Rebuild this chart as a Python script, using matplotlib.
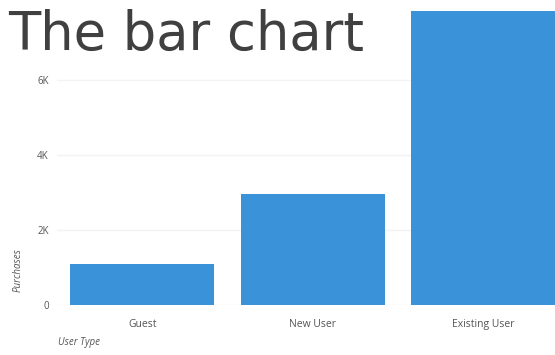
import numpy as np
import matplotlib.pyplot as plt

# data
user_types = ["Guest", "New User", "Existing User"]
purchases = [1100, 2950, 7850]
ytick_vals = [0, 2000, 4000, 6000]
ytick_labels = ["0", "2K", "4K", "6K"]

W, H = 555, 355
fig = plt.figure(figsize=(W / 100, H / 100), dpi=100)
ax = fig.add_axes([57 / W, 50 / H, (W - 57) / W, 305 / H])

x = np.arange(len(user_types))
ax.bar(x, purchases, width=0.845, color="#3a93d8", zorder=2)

ax.set_xlim(-0.5, -0.5 + (W - 57) / 170.5)
ax.set_ylim(0, 305 / 37.5 * 1000)
ax.set_yticks(ytick_vals)
ax.set_yticklabels(ytick_labels)
ax.set_xticks(x)
ax.set_xticklabels(user_types)
ax.grid(axis="y", color="#f3f3f3", linewidth=1, zorder=0)
ax.tick_params(axis="y", length=0, pad=6, labelsize=7, labelcolor="#555555")
ax.tick_params(axis="x", length=0, pad=10, labelsize=7.5, labelcolor="#555555")
for lab in ax.get_xticklabels() + ax.get_yticklabels():
    lab.set_family("Open Sans")
for s in ax.spines.values():
    s.set_visible(False)

fig.text(8 / W, 1 - 50 / H, "The bar chart", fontsize=38, color="#404040",
         family="DejaVu Sans", ha="left", va="baseline")
fig.text(18 / W, 1 - 270 / H, "Purchases", rotation=90, style="italic",
         fontsize=7, color="#555555", family="Open Sans", ha="center", va="center")
fig.text(58 / W, 1 - 343 / H, "User Type", style="italic",
         fontsize=7, color="#555555", family="Open Sans", ha="left", va="center")

fig.savefig("out.png", dpi=100)
